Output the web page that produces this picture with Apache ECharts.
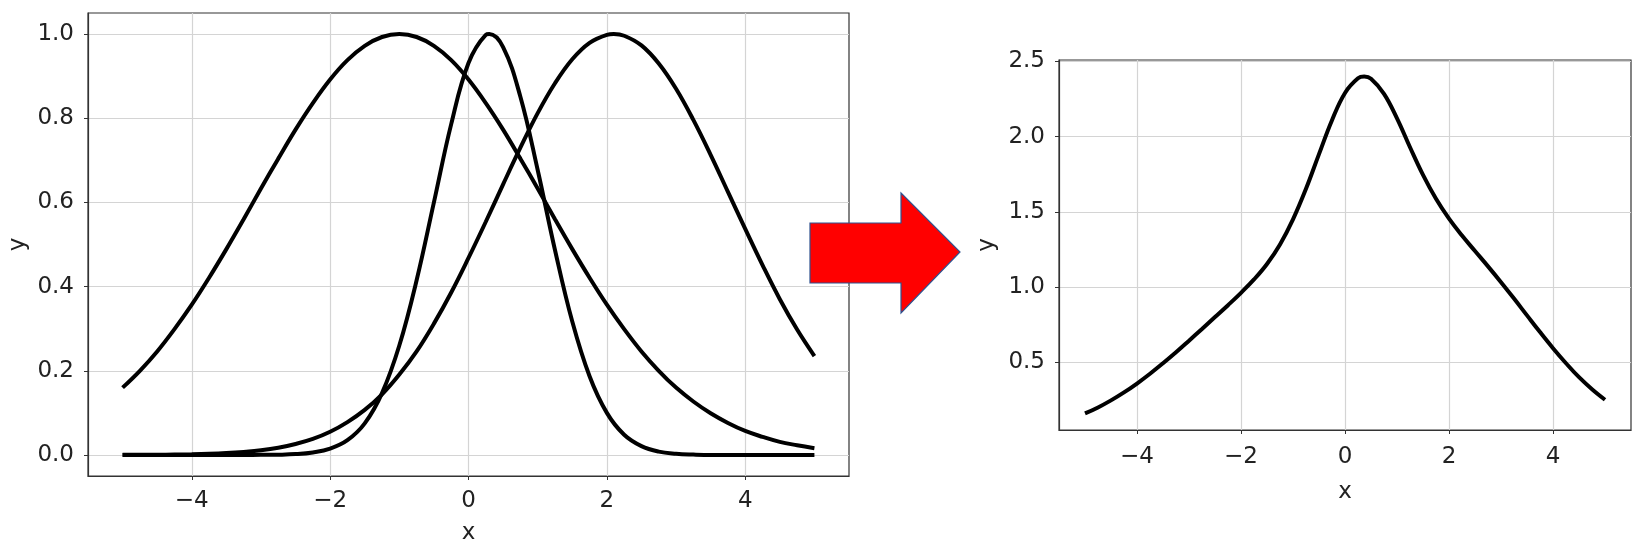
<!DOCTYPE html>
<html>
<head>
<meta charset="utf-8">
<script src="https://cdn.jsdelivr.net/npm/echarts@6/dist/echarts.min.js"></script>
<style>
html,body{margin:0;padding:0;background:#fff;}
#c{width:1644px;height:550px;}
</style>
</head>
<body>
<div id="c"></div>
<script>
// x positions sampled along the curves
const xs = [-5,-4.75,-4.5,-4.25,-4,-3.75,-3.5,-3.25,-3,-2.75,-2.5,-2.25,-2,-1.75,-1.5,-1.25,-1,-0.75,-0.5,-0.25,0,0.25,0.5,0.75,1,1.25,1.5,1.75,2,2.25,2.5,2.75,3,3.25,3.5,3.75,4,4.25,4.5,4.75,5];
// left panel: three bumps
const bumpWide = [0.160,0.200,0.246,0.299,0.357,0.421,0.489,0.560,0.633,0.704,0.773,0.836,0.892,0.938,0.972,0.993,1.000,0.993,0.972,0.938,0.892,0.836,0.773,0.704,0.633,0.560,0.489,0.421,0.357,0.299,0.246,0.200,0.160,0.127,0.099,0.076,0.057,0.043,0.031,0.023,0.016];
const bumpNarrow = [0,0,0,0,0,0,0,0,0.0002,0.0006,0.002,0.006,0.015,0.035,0.075,0.147,0.260,0.415,0.600,0.786,0.931,0.998,0.969,0.851,0.677,0.487,0.317,0.187,0.100,0.048,0.021,0.008,0.003,0.001,0,0,0,0,0,0,0];
const bumpRight = [0.0002,0.0003,0.0005,0.001,0.0016,0.0027,0.0045,0.0072,0.011,0.017,0.026,0.038,0.055,0.078,0.107,0.144,0.191,0.246,0.312,0.386,0.468,0.554,0.643,0.730,0.812,0.883,0.940,0.979,0.998,0.996,0.973,0.930,0.870,0.796,0.713,0.625,0.537,0.451,0.370,0.298,0.235];
// right panel: combined curve
const combined = [0.160,0.200,0.247,0.300,0.359,0.424,0.494,0.567,0.644,0.722,0.801,0.880,0.962,1.051,1.154,1.284,1.451,1.654,1.884,2.110,2.291,2.388,2.385,2.285,2.122,1.930,1.746,1.587,1.455,1.343,1.240,1.138,1.033,0.924,0.812,0.701,0.594,0.494,0.401,0.321,0.251];
// peak points [x, y]
const peakNarrow = [0.3, 1.0];
const peakRight = [2.1, 1.0];
const peakCombined = [0.37, 2.40];
// tick labels
const xTicks = [-4,-2,0,2,4];
const yTicksLeft = [0,0.2,0.4,0.6,0.8,1.0];
const yTicksRight = [0.5,1.0,1.5,2.0,2.5];

function pairs(ys, peak){
  const p = xs.map((x,i)=>[x,ys[i]]);
  if (peak) { p.push(peak.slice()); p.sort((a,b)=>a[0]-b[0]); }
  return p;
}
const FONT = 'DejaVu Sans';
const txt = '#222';
const gridColor = '#d4d4d4';

function xAxisCfg(gi, margin, nameGap){
  return {
    type:'value', gridIndex:gi, min:-5.5, max:5.5,
    name:'x', nameLocation:'middle', nameGap:nameGap,
    nameTextStyle:{fontFamily:FONT,fontSize:23,color:txt},
    axisLine:{show:true,onZero:false,lineStyle:{color:'#333',width:1.2}},
    axisTick:{show:true,length:4,lineStyle:{color:'#333'},customValues:xTicks},
    axisLabel:{fontFamily:FONT,fontSize:23,color:txt,margin:margin,customValues:xTicks,
      formatter:v=>String(v).replace('-','\u2212')},
    splitLine:{show:true,lineStyle:{color:gridColor,width:1.2}}
  };
}
function yAxisCfg(gi, min, max, ticks, nameGap){
  return {
    type:'value', gridIndex:gi, min:min, max:max,
    name:'y', nameLocation:'middle', nameGap:nameGap,
    nameTextStyle:{fontFamily:FONT,fontSize:23,color:txt},
    axisLine:{show:true,onZero:false,lineStyle:{color:'#333',width:1.2}},
    axisTick:{show:true,length:4,lineStyle:{color:'#333'},customValues:ticks},
    axisLabel:{fontFamily:FONT,fontSize:23,color:txt,margin:14,customValues:ticks,
      formatter:v=>Number(v).toFixed(1)},
    splitLine:{show:true,lineStyle:{color:gridColor,width:1.2}}
  };
}
const lineStyle = {color:'#000',width:4};
function lineSeries(data, xi, yi){
  return {type:'line', xAxisIndex:xi, yAxisIndex:yi, data:data,
    showSymbol:false, smooth:0.4, lineStyle:lineStyle, itemStyle:{color:'#000'},
    silent:true, animation:false};
}

const chart = echarts.init(document.getElementById('c'), null, {renderer:'canvas'});
chart.setOption({
  animation:false,
  backgroundColor:'#fff',
  grid:[
    {left:88, top:13, width:761, height:464, show:true, borderColor:'#333', borderWidth:1.2},
    {left:1059, top:60, width:572, height:370, show:true, borderColor:'#333', borderWidth:1.2}
  ],
  xAxis:[ xAxisCfg(0, 14, 46), xAxisCfg(1, 16, 51) ],
  yAxis:[ yAxisCfg(0, -0.05, 1.05, yTicksLeft, 58), yAxisCfg(1, 0.05, 2.51, yTicksRight, 60) ],
  series:[
    lineSeries(pairs(bumpWide),0,0),
    lineSeries(pairs(bumpNarrow, peakNarrow),0,0),
    lineSeries(pairs(bumpRight, peakRight),0,0),
    lineSeries(pairs(combined, peakCombined),1,1)
  ],
  graphic:[{
    type:'polygon',
    shape:{points:[[810,223],[901,223],[901,193],[960,252],[901,313],[901,283],[810,283]]},
    style:{fill:'#ff0000',stroke:'#2f528f',lineWidth:1.2},
    z:100
  }]
});
</script>
</body>
</html>
